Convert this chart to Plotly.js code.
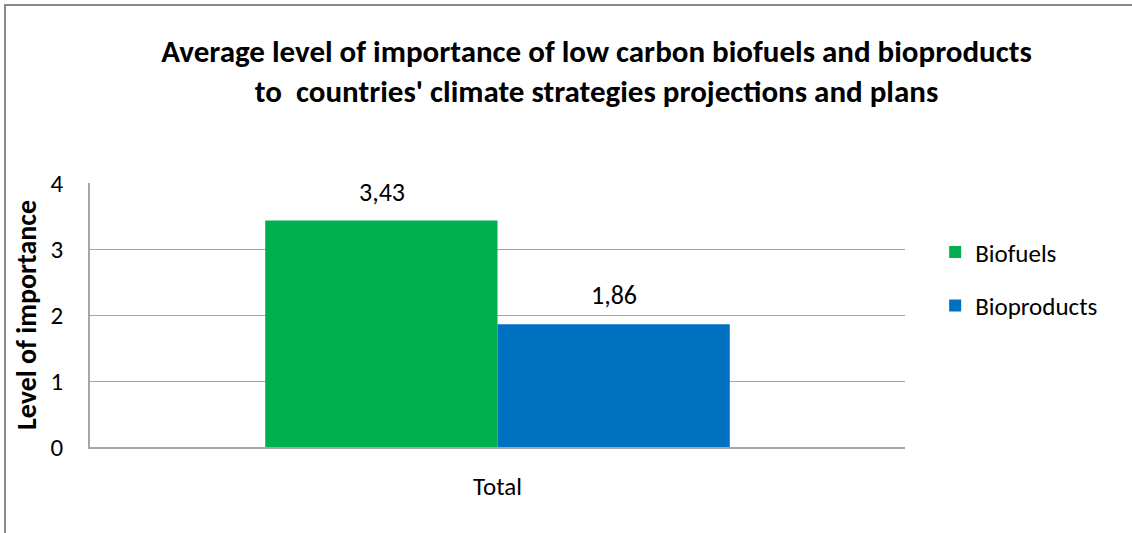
<!DOCTYPE html>
<html>
<head>
<meta charset="utf-8">
<script src="https://cdn.plot.ly/plotly-3.0.1.min.js"></script>
<style>
html,body{margin:0;padding:0;background:#fff;}
#chart{width:1132px;height:533px;}
</style>
</head>
<body>
<div id="chart"></div>
<script>
const categories = ["Total"];
const seriesNames = ["Biofuels", "Bioproducts"];
const biofuels = [3.43];
const bioproducts = [1.86];
const yTicks = [0, 1, 2, 3, 4];
const titleLines = ["Average level of importance of low carbon biofuels and bioproducts",
                    "to \u00a0countries' climate strategies projections and plans"];

const font = "Calibri, Carlito, 'Liberation Sans Narrow', sans-serif";
const seriesValues = [biofuels, bioproducts];
const seriesColors = ['#00B050', '#0070C0'];

const traces = seriesNames.map((n, i) => ({
  type:'bar', name:n, x:categories, y:seriesValues[i], marker:{color:seriesColors[i]},
  legendgroup:'g' + i, hoverinfo:'none'
}));

// value labels placed from the data values, shifted above each grouped bar
const fmt = v => v.toFixed(2).replace('.', ',');
const annotations = [];
seriesValues.forEach((vals, i) => {
  vals.forEach((v, j) => {
    annotations.push({x:categories[j], y:v, xref:'x', yref:'y', text:fmt(v), showarrow:false,
      yanchor:'bottom', yshift:11, xshift:(i - 0.5) * 232,
      font:{size:26, family:font, color:'#000'}});
  });
});

const layout = {
  width:1132, height:533,
  margin:{l:90, r:227, t:183, b:86},
  paper_bgcolor:'#fff', plot_bgcolor:'#fff',
  separators:', ',
  font:{family:font, color:'#000', size:20},
  title:{text:titleLines.join('<br>'), x:0.527, xanchor:'center', y:0.884, yanchor:'middle',
         font:{family:font, size:31, color:'#000', weight:'bold'}},
  barmode:'group', bargap:0.43, bargroupgap:0,
  showlegend:true,
  legend:{x:1.037, xanchor:'left', y:0.825, yanchor:'top', traceorder:'grouped', tracegroupgap:18,
          font:{size:25, family:font}},
  xaxis:{type:'category', showline:true, linecolor:'#a6a6a6', linewidth:1.5, showgrid:false,
         ticks:'outside', ticklen:16, tickcolor:'rgba(0,0,0,0)', tickfont:{size:25}},
  yaxis:{range:[0,4], tickvals:yTicks, showline:true, linecolor:'#a6a6a6', linewidth:1.5,
         gridcolor:'#a6a6a6', gridwidth:1.2, zeroline:false,
         ticks:'outside', ticklen:20, tickcolor:'rgba(0,0,0,0)', tickfont:{size:25},
         title:{text:'Level of importance', standoff:6, font:{size:28, weight:'bold', family:font}}},
  annotations:annotations,
  shapes:[{type:'rect', xref:'paper', yref:'paper',
           x0:(5-90)/815, x1:(1140-90)/815, y0:(447-540)/264, y1:(447-5)/264,
           line:{color:'#888888', width:2}, fillcolor:'rgba(0,0,0,0)', layer:'below'}]
};

Plotly.newPlot('chart', traces, layout, {displayModeBar:false, responsive:false});
</script>
</body>
</html>
